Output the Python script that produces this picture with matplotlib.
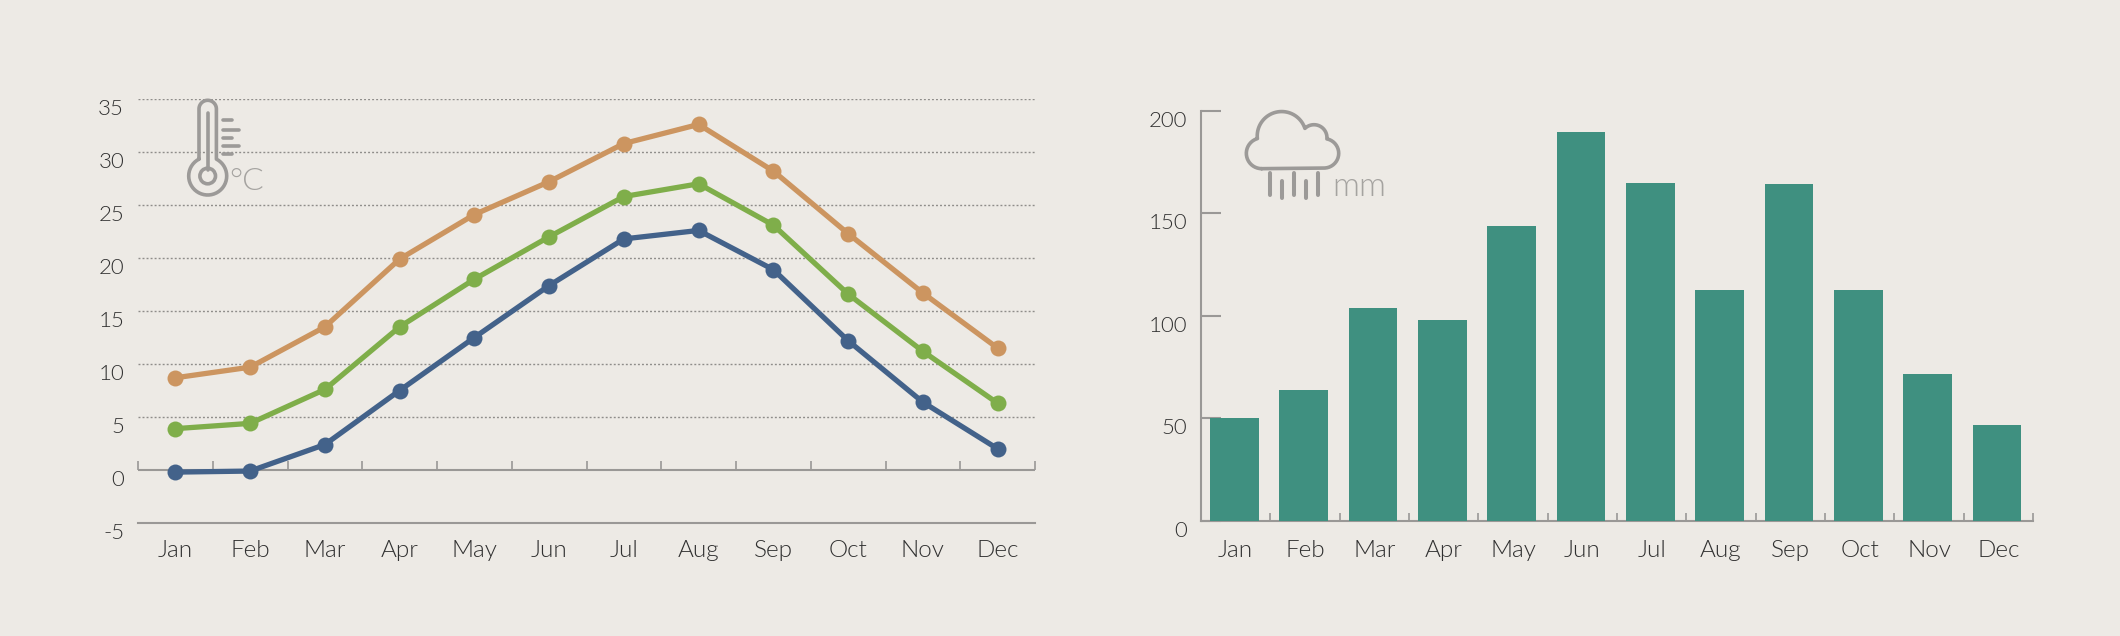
import numpy as np
import matplotlib
matplotlib.use('Agg')
import matplotlib.pyplot as plt
from matplotlib.path import Path
from matplotlib.patches import PathPatch, Circle

plt.rcParams['font.family'] = ['Lato', 'DejaVu Sans']
plt.rcParams['axes.unicode_minus'] = False

W, H = 2120, 636
BG = '#edeae5'
GREY = '#9a9896'
ICON = '#9c9a98'
TXT = '#303030'
PESO = 300
meses = ['Jan', 'Feb', 'Mar', 'Apr', 'May', 'Jun', 'Jul', 'Aug', 'Sep', 'Oct', 'Nov', 'Dec']
x = np.arange(12)

maxima = [8.7, 9.7, 13.5, 19.9, 24.1, 27.2, 30.8, 32.6, 28.2, 22.3, 16.7, 11.5]
media = [3.9, 4.4, 7.6, 13.5, 18, 22, 25.8, 27.0, 23.1, 16.6, 11.2, 6.3]
minima = [-0.2, -0.1, 2.4, 7.5, 12.5, 17.4, 21.8, 22.6, 18.9, 12.2, 6.4, 2.0]
lluvia = [50, 64, 104, 98, 144, 189.5, 165, 112.5, 164.5, 112.5, 71.5, 47]


def ejes(x0, x1, y_top, y_bottom):  # axes from pixel box
    return fig.add_axes([x0 / W, 1 - y_bottom / H, (x1 - x0) / W, (y_bottom - y_top) / H])


fig = plt.figure(figsize=(W / 100, H / 100), dpi=100, facecolor=BG)

# temperature chart
ax = ejes(138, 1035, 99, 523)
ax.set_facecolor('none')
ax.set_xlim(-0.5, 11.5)
ax.set_ylim(-5, 35)
for s in ['top', 'left', 'right']:
    ax.spines[s].set_visible(False)
ax.spines['bottom'].set_color(GREY)
ax.spines['bottom'].set_linewidth(1.5)
for g in range(5, 36, 5):
    ax.axhline(g, color='#8f8d8a', lw=1, ls=(0, (1.4, 1.5)), zorder=1)
ax.axhline(0, color=GREY, lw=1.5, zorder=1)
ax.vlines(np.arange(-0.5, 12), 0, 0.85, color=GREY, lw=1.2, zorder=1, clip_on=False)
for serie, color in [(maxima, '#cc9560'), (media, '#7fae4a'), (minima, '#43628a')]:
    ax.plot(x, serie, color=color, lw=3.8, marker='o', ms=11.5, mew=0, zorder=3, clip_on=False)
ax.set_xticks(x)
ax.set_xticklabels(meses)
ax.set_yticks(range(-5, 36, 5))
ax.tick_params(axis='x', length=0, pad=12.5, labelsize=17.5, labelcolor=TXT)
ax.tick_params(axis='y', length=0, pad=10, labelsize=16, labelcolor=TXT)
for t in ax.get_yticklabels():
    t.set_verticalalignment('top')
    t.set_fontweight(PESO)
for t in ax.get_xticklabels():
    t.set_fontweight(PESO)

# rain chart
ax2 = ejes(1201, 2033, 110.7, 521)
ax2.set_facecolor('none')
ax2.set_xlim(-0.5, 11.5)
ax2.set_ylim(0, 200)
ax2.set_axisbelow(True)
for s in ['top', 'right']:
    ax2.spines[s].set_visible(False)
for s in ['left', 'bottom']:
    ax2.spines[s].set_color(GREY)
    ax2.spines[s].set_linewidth(1.5)
ax2.bar(x - 0.02, lluvia, width=0.7, color='#3f9080', zorder=3)
ax2.set_xticks(x)
ax2.set_xticklabels(meses)
ax2.set_xticks(np.arange(-0.5, 12), minor=True)
ax2.set_yticks(range(0, 201, 50))
ax2.tick_params(axis='x', which='major', length=0, pad=14, labelsize=17.5, labelcolor=TXT)
ax2.tick_params(axis='x', which='minor', direction='in', length=5.8, width=1.2, color=GREY)
ax2.tick_params(axis='y', direction='in', length=14.4, width=1.5, color=GREY, pad=10, labelsize=16, labelcolor=TXT)
for t in ax2.get_yticklabels():
    t.set_verticalalignment('top')
    t.set_fontweight(PESO)
for t in ax2.get_xticklabels():
    t.set_fontweight(PESO)

# icons, drawn on an overlay in image pixels
ic = fig.add_axes([0, 0, 1, 1], facecolor='none')
ic.set_xlim(0, W)
ic.set_ylim(H, 0)
ic.axis('off')


def arco(cx, cy, p0, p1):  # clockwise on screen, from p0 to p1
    r = np.hypot(p0[0] - cx, p0[1] - cy)
    a0 = np.arctan2(p0[1] - cy, p0[0] - cx)
    a1 = np.arctan2(p1[1] - cy, p1[0] - cx)
    if a1 < a0:
        a1 += 2 * np.pi
    a = np.linspace(a0, a1, 40)
    return np.column_stack([cx + r * np.cos(a), cy + r * np.sin(a)])


def trazo(puntos, lw=2.6):
    ic.add_patch(PathPatch(Path(puntos), fc='none', ec=ICON, lw=lw, capstyle='round', joinstyle='round'))


# thermometer
tx, by = 207.7, 176
tubo = np.vstack([
    [[tx - 8.7, by - 16.9], [tx - 8.7, 109]],
    arco(tx, 109, (tx - 8.7, 109), (tx + 8.7, 109)),
    [[tx + 8.7, by - 16.9]],
    arco(tx, by, (tx + 8.7, by - 16.9), (tx - 8.7, by - 16.9)),
])
trazo(tubo)
trazo([[tx, 113], [tx, 170]])
ic.add_patch(Circle((tx, by), 7.8, fc='none', ec=ICON, lw=2.6))
for yy, fin in [(119.7, 232), (130, 239), (137.7, 232), (146, 239), (154, 232)]:
    trazo([[223, yy], [fin, yy]], lw=2.6)
ic.text(229, 190, '°C', color='#a5a3a0', fontsize=23, fontweight=PESO, va='baseline', ha='left')


# cloud, points taken in the 3x crop then scaled
def z(px, py):
    return (1120 + px / 3, 90 + py / 3)


izq = arco(*z(425, 190), z(425, 236), z(412, 145))
grande = arco(*z(485, 138), z(412, 145), z(555, 115))
chica = arco(*z(582, 143), z(555, 115), z(622, 147))
der = arco(*z(612, 190), z(622, 147), z(612, 236))
trazo(np.vstack([izq, grande, chica, der, [z(425, 236)]]))
for px, p0, p1 in [(450, 250, 315), (486, 272, 325), (522, 250, 315), (558, 272, 325), (594, 250, 315)]:
    trazo([z(px, p0), z(px, p1)], lw=2.9)
ic.text(1332, 196, 'mm', color='#a5a3a0', fontsize=24, fontweight=PESO, va='baseline', ha='left')

fig.savefig('out.png', dpi=100, facecolor=BG)
